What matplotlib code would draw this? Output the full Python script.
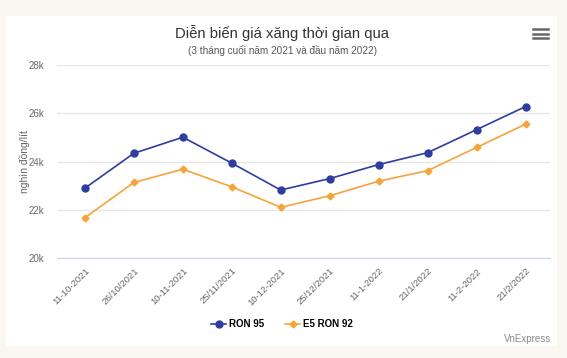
import matplotlib.pyplot as plt
from matplotlib.patches import Rectangle
from matplotlib.lines import Line2D

plt.rcParams['font.family'] = ['Liberation Sans', 'DejaVu Sans']

dates = ["11-10-2021", "26/10/2021", "10-11-2021", "25/11/2021", "10-12-2021",
         "25/12/2021", "11-1-2022", "21/1/2022", "11-2-2022", "21/2/2022"]
ron95 = [22895, 24340, 25006, 23932, 22817, 23292, 23873, 24364, 25320, 26278]
e5_ron92 = [21670, 23130, 23680, 22950, 22100, 22580, 23183, 23620, 24582, 25549]
yticks = [20000, 22000, 24000, 26000, 28000]

W, H = 567, 358
fig = plt.figure(figsize=(W / 100, H / 100), dpi=100)
fig.patch.set_facecolor("#faf7f1")

# white card
fig.patches.append(Rectangle((6 / W, 1 - 346 / H), 551 / W, 330 / H,
                             transform=fig.transFigure, facecolor="white",
                             edgecolor="none", zorder=-5))

ax = fig.add_axes([57 / W, 1 - 258 / H, (550 - 57) / W, (258 - 65) / H])
ax.set_facecolor("white")
x = list(range(len(dates)))
ax.plot(x, ron95, color="#2e3d9f", lw=1.2, marker="o", ms=5, label="RON 95", zorder=3)
ax.plot(x, e5_ron92, color="#f4a43a", lw=1.2, marker="D", ms=3.5, label="E5 RON 92", zorder=3)

ax.set_ylim(20000, 28000)
ax.set_yticks(yticks)
ax.set_yticklabels([f"{v // 1000}k" for v in yticks])
ax.set_xlim(-0.57, 9.5)
ax.set_xticks(x)
ax.set_xticklabels(dates, rotation=45, ha="right", rotation_mode="anchor")
ax.grid(axis="y", color="#e6e6e6", lw=0.9)
ax.set_axisbelow(True)
for s in ax.spines.values():
    s.set_visible(False)
ax.spines["bottom"].set_visible(True)
ax.spines["bottom"].set_color("#ccd6eb")
ax.tick_params(axis="y", length=0, labelsize=7, colors="#666666", pad=9)
ax.tick_params(axis="x", length=0, labelsize=6.8, colors="#666666", pad=6)
ax.set_ylabel("nghìn đồng/lít", fontsize=7.5, color="#666666")
ax.yaxis.set_label_coords(-0.055, 0.5)

fig.text(282 / W, 1 - 33 / H, "Diễn biến giá xăng thời gian qua", ha="center", va="center",
         fontsize=10.7, color="#333333")
fig.text(283 / W, 1 - 50 / H, "(3 tháng cuối năm 2021 và đầu năm 2022)", ha="center",
         va="center", fontsize=7.2, color="#555555")

# menu icon
for yy in (29.3, 33.8, 38.3):
    fig.lines.append(Line2D([533 / W, 548 / W], [1 - yy / H] * 2, transform=fig.transFigure,
                            color="#666666", lw=1.8))

fig.legend(loc="center", bbox_to_anchor=(282 / W, 1 - 324 / H), ncol=2, frameon=False,
           handlelength=1.5, handletextpad=0.3, columnspacing=2.2,
           prop={"weight": "bold", "size": 7})

fig.text(551 / W, 1 - 339 / H, "VnExpress", ha="right", va="center", fontsize=7,
         color="#888888")

fig.savefig("out.png", dpi=100, facecolor=fig.get_facecolor())
